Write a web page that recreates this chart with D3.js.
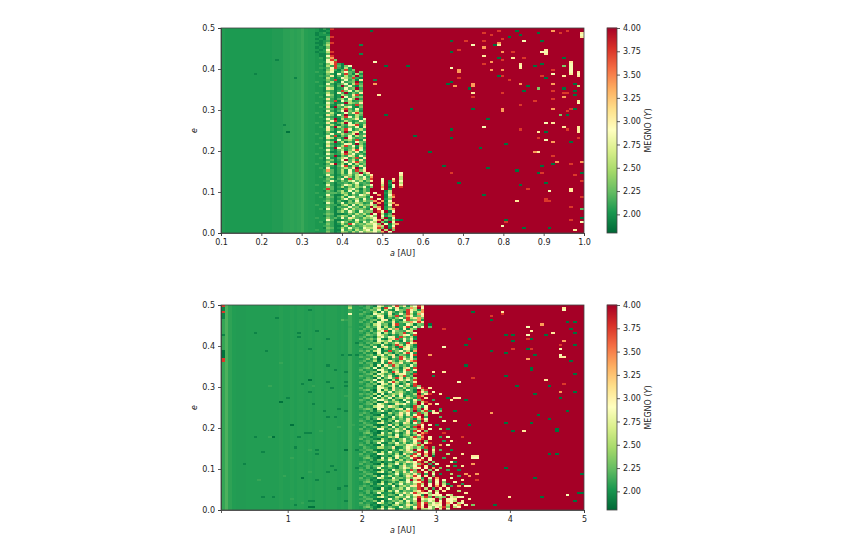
<!DOCTYPE html>
<html>
<head>
<meta charset="utf-8">
<script src="https://cdn.jsdelivr.net/npm/d3@7"></script>
<style>
  body { margin: 0; background: #fff; }
  text { font-family: "DejaVu Sans", sans-serif; fill: #222; }
</style>
</head>
<body>
<div id="chart"></div>
<script>
// cells are written as one character each, these are the MEGNO values behind them
const levelKeys = ["0","1","2","3","4","5","6","7","8","9","a","R"];
const levelValues = [1.85,1.93,2.02,2.1,2.2,2.32,2.55,2.85,3.05,3.4,3.75,4];

const topATicks = [0.1,0.2,0.3,0.4,0.5,0.6,0.7,0.8,0.9,1.0];
const bottomATicks = [1,2,3,4,5];
const eTicks = [0,0.1,0.2,0.3,0.4,0.5];
const colorTicks = [2,2.25,2.5,2.75,3,3.25,3.5,3.75,4];

const topColumnBase = [2.04,2.03,2.03,2.03,2.03,2.03,2.03,2.03,2.03,2.03,2.03,2.03,2.03,2.03,2.04,2.04,2.04,2.07,2.07,2.08,2.07,2.08,2.11,2.06,2.05,2.05,
  4,4,4,4,4,4,4,4,4,4,4,4,4,4,4,4,4,4,4,4,4,4,4,4,4,4,4,4,4,4,4,4,4,4,4,4,4,4,4,4,4,4,4,4,4,4,4,4,4,4,4,4,4,4,4,4,4,4,4,4,4,4,4,4,4,4,4,4,4,4,4,4,4,4];
const bottomColumnBase = [2.1,2.17,2.08,2.05,2.04,2.04,2.04,2.05,2.05,2.05,2.05,2.05,2.05,2.05,2.05,2.05,2.06,2.05,2.05,2.06,2.05,2.06,2.06,2.05,2.06,2.05,2.06,2.06,2.05,2.06,2.06,2.06,2.05,2.06,2.05,2.12,2.06,2.05,
  4,4,4,4,4,4,4,4,4,4,4,4,4,4,4,4,4,4,4,4,4,4,4,4,4,4,4,4,4,4,4,4,4,4,4,4,4,4,4,4,4,4,4,4,4,4,4,4,4,4,4,4,4,4,4,4,4,4,4,4,4,4];

// chaotic band, top row is e = 0.5. First char is column 26 (top) / 38 (bottom), short rows end in red
const topBandStart = 26;
const topBandRows = [
"2131a","2112R","1231R","1222R","2114a","1214R","2123R","1125a","2136R","1215R",
"2127R","1226a","2114R","2117a","23159","2217a5","22278a","23158a31","22163a4157","23247a3162",
"22158314a25","32267125743R5","22153173a4162","23248142635R4","2216312764a31","22253a1473518","32146217345R2","22173135726a4","2325414R47315","22186123745R3",
"2214313a57264","32263174R2538","22175126438a2","2314412R73645","22283146275R3","22153a1746235","32174123R6548","22262157342a4","23181R4367215","22254136a4273",
"22173147R5362","32246213748a5","22185174R3264","23143125a7362","22274R16345827","22157a13642375","32283146R72534","22146215378a26","23173R64253718","22284135a72463",
"22152174R36827","32147236458R34","22273a15372648","23186142R75342","22142173563a28","22275R36142754","32163124783R52","22184136a47263","23142R75346182","22273146258a73",
"22151137R64825","32174236a57342","22243R15386274","23172146735a28","22145137R46283","22263125748a54","32148R36172635","22253147a26384","23172135648R27","22394136273a58",
"223541362745R58RRRRRRRR7","2227312546367258RRRRRRR8","2314613785264739RRRRRRR6","222531472a36584aRR7RR8R6","2234712536746258RR7R19R7","221531364257343RRR8R2RR6","3227312476362457RR6R17R8","2225413625364725RR9R07Ra","223a41253674153RRR8R2RRR","221531462736253RRRR16RRR",
"322441365274258R7RR26RRR","222731146253764RR9R17aRR","2315413627745527RRR169RR","222431257346273aR7R25RRR","22353146152736459R917RRR","2217413725465237R9R269RR","32243115627364585RR17R9R","222531463745263R69R25RRR","2317312573645427R8R269RR","2224314637527455Ra7R17RR",
"223541172536463R7R614RRR","22143146527452675R7259RR","32253127386436567R6R17RR","222741163527453479R5261R","23143147523627476R51R7RR","222531263a74546675R7169R","2234311762534655796R27RR","22154126374537667a5R19RR","322431173526467476R6R5RR","2225312653647566759R7RRR"
];
const bottomBandStart = 38;
const bottomBandRows = [
"3243176347a58267a8","2342561a73824596R7","3235472631754a8629","2432617384251a7369","4321765281374a6297","3245378164a2597358","2343167142573a6895","3424527816317a4592","4235176338246597a8","2342674518a3276154",
"3253471626138a2747","2434176385927164R","4325267a1754386R","324247163845a257","235437641425873a","34231674782a5361","4245372168a37482","233417658241736R","3243561635842a79","4325317314a62851",
"24427168351a6742","3234370526418735R","43526712a3574619","2423071641538a72","324526736815427a","43347165284a6371","23525076143a7584","342361738526479a","42441372a6583416","233517184a635274",
"345270637451682a","4233177415628a37","342450762a837451","234517635168742a","433263748216a35","3243071574a82636","245471631628574a","432527738a635148","324350762751483a","234417635827461a5",
"42332775184362437aR8R","3452071638452741R6aR","2324176372564241a85R7","4343617146583236R48a","3235071648271534a9R","2452716371564852aR8","43243775263174284aR","3243501845631726R6a","2345176312867425R7R9","423267748651431a627R",
"345407152368174a4R8R","232415731425694R36a28R5","3431236163485724a46R7","4233107241583827aR6R","234245631736245a8R3","32413771462538416a7R","432310625174482a3R6R","24322673145286174aR","3344107382615534a7R7","242351641725362aR8",
"4232177253648145a9R7","334120631475382a7R5","2453107362514836R9aR","23241563417256148aR","343123726581346a49R7","42331063142573586aR8","2342457326158437aR5","32413761547362484R7a","4323107231654876a6R","243226634812576463aR5",
"334410731526485R7R3R8R","2423516273415684aR7R6","423217735261843a7R9R5","33412063147526a85R6R1","245310726183547aR7R8R","232415637416253R8aR7","3431237231645867aR6R5R","42331061547263485aR3R7","2342457362158457aR8R1R","32413762431576487R7R9R5",
"43231063175462a5R7R5R7R","2432267251638475aR8R6R","33441061347256484R3R7R1","242351736251486a7R8R5R","423217621745364883R7R9R","33412073465127R6a5R5R8R7","24531061352647478aR4R7R5","2324157261473546a6R7R8R6","3431236327156488a7R7R9R8R","4233107215463745aR6R3R8R7",
"23424561637254368aR7R6R8R","324137723164857a6875R7R","432310625417364782R6787R76R","2432267312654736a6a4R565R867","3344106273518447R7678R5R778","2423517135462746R6576R7R876R8","4232176241753615a7a5768R97R67","3341207315624864a7R6787R6R79R7","2453106153274627a8R7576a5R67R","2324157276135416R6675R8R7R"
];

// single odd cells [column, row from top, level]
const topSpecks = [
[9,22,"1"],[15,15,"1"],[20,24,"1"],[18,50,"0"],[17,47,"1"],
[33,72,"2"],[33,75,"3"],[33,78,"1"],[33,81,"3"],[33,84,"2"],[33,87,"3"],[33,90,"1"],[33,93,"2"],[33,96,"3"],[31,74,"3"],[31,80,"4"],[31,86,"3"],[31,92,"4"],
[41,1,"0"],[38,8,"1"],[38,12,"1"],[42,16,"7"],[45,18,"0"],[51,18,"0"],[42,25,"1"],[42,27,"9"],[43,32,"8"],[52,39,"0"],[45,42,"0"],[53,52,"0"],[57,60,"0"],[49,93,"0"],
[63,6,"0"],[67,6,"a"],[69,8,"7"],[63,11,"0"],[65,10,"a"],[72,6,"a"],[72,9,"9"],[72,13,"8"],[72,17,"a"],[74,3,"a"],[76,1,"a"],[72,2,"a"],[75,8,"0"],[76,8,"8"],[76,7,"9"],[77,5,"a"],[77,11,"9"],[80,11,"a"],[80,14,"8"],[76,14,"0"],[77,15,"a"],[74,16,"9"],[74,20,"9"],[77,20,"9"],[82,17,"8"],[82,18,"7"],[82,19,"8"],[83,14,"a"],[81,1,"0"],[82,3,"0"],[79,4,"0"],[87,2,"0"],[83,6,"7"],[88,6,"0"],[88,11,"7"],[89,10,"8"],[89,11,"7"],[89,12,"8"],[86,18,"0"],[88,17,"0"],[94,14,"0"],[94,18,"5"],
[96,16,"8"],[96,17,"7"],[96,18,"7"],[96,19,"7"],[96,20,"7"],[96,21,"7"],[96,22,"8"],[98,21,"8"],[98,22,"7"],[98,23,"8"],[91,1,"9"],[93,2,"a"],[95,1,"a"],[99,2,"8"],[99,3,"7"],[99,4,"8"],[91,20,"a"],[91,22,"7"],[89,24,"0"],[94,23,"8"],[88,23,"a"],
[63,19,"7"],[65,20,"9"],[65,21,"9"],[65,24,"a"],[63,26,"0"],[62,27,"0"],[64,28,"9"],[69,27,"9"],[69,28,"9"],[68,29,"0"],[69,31,"8"],[69,33,"a"],[77,23,"a"],[79,25,"a"],[76,23,"0"],[82,27,"9"],[84,28,"0"],[83,30,"0"],[87,29,"5"],[77,31,"a"],[91,27,"9"],[91,30,"a"],[94,29,"0"],[94,31,"a"],[95,31,"a"],[97,27,"0"],[98,28,"6"],[97,30,"0"],[97,32,"0"],[94,33,"9"],[91,34,"a"],[98,35,"8"],[98,36,"7"],[86,35,"a"],[82,37,"a"],[69,39,"0"],[77,39,"9"],[77,40,"9"],[91,39,"9"],[95,40,"a"],[96,39,"a"],[97,39,"0"],[93,42,"5"],[95,42,"0"],[73,44,"0"],[72,48,"7"],[63,49,"0"],[82,49,"a"],[87,50,"8"],[89,50,"0"],[89,46,"7"],[91,46,"8"],[94,48,"8"],[95,49,"a"],[98,48,"8"],[98,49,"8"],[98,50,"8"],[63,53,"0"],[87,53,"a"],[89,54,"7"],[98,53,"a"],
[91,55,"9"],[96,55,"0"],[78,56,"0"],[71,58,"0"],[86,60,"9"],[87,60,"8"],[91,62,"a"],[92,65,"9"],[91,66,"0"],[88,67,"0"],[96,66,"a"],[99,65,"9"],[61,67,"0"],[73,68,"0"],[63,70,"a"],[81,69,"0"],[87,70,"0"],[88,70,"a"],[97,71,"a"],[99,70,"0"],[65,75,"0"],[82,76,"0"],[89,75,"0"],[99,74,"a"],[84,78,"a"],[90,79,"7"],[96,78,"8"],[96,79,"8"],[72,81,"0"],[89,83,"a"],[89,84,"a"],[90,84,"a"],[81,84,"8"],[99,82,"a"],[96,87,"a"],[99,88,"4"],[99,92,"0"],[96,93,"a"],[78,93,"0"],[78,94,"a"],[77,96,"7"],[83,97,"0"],[90,97,"0"],[97,98,"8"],[99,94,"7"]
];
const bottomSpecks = [
[0,0,"a"],[0,1,"1"],[0,2,"1"],[0,3,"a"],[0,4,"1"],[0,5,"1"],[0,6,"1"],[0,14,"1"],[0,22,"0"],[0,23,"0"],[0,24,"0"],[0,25,"0"],[0,26,"a"],[0,27,"a"],
[24,2,"1"],[15,6,"1"],[9,13,"1"],[21,13,"1"],[21,15,"1"],[26,12,"1"],[29,16,"1"],[37,18,"1"],[33,7,"4"],[34,7,"3"],[35,1,"6"],[35,0,"5"],[35,4,"7"],[35,10,"3"],[12,22,"1"],[24,21,"1"],[33,24,"1"],[35,24,"1"],[37,24,"1"],[29,29,"1"],[31,31,"1"],[34,32,"1"],[16,28,"3"],[24,36,"0"],[22,38,"1"],[29,37,"1"],[34,37,"1"],[30,40,"1"],[34,39,"1"],[18,45,"1"],[16,47,"0"],[25,48,"1"],[24,42,"1"],[32,50,"1"],[28,51,"1"],[34,44,"3"],[13,39,"3"],[25,39,"3"],
[19,58,"0"],[14,64,"0"],[9,64,"1"],[21,64,"1"],[23,62,"1"],[24,62,"1"],[29,54,"1"],[31,54,"1"],[34,70,"0"],[26,70,"1"],[26,72,"1"],[20,69,"1"],[11,71,"1"],[6,77,"1"],[34,51,"1"],[37,70,"1"],[22,84,"0"],[26,85,"1"],[32,89,"1"],[34,88,"1"],[11,93,"1"],[14,93,"1"],[20,97,"1"],[24,98,"0"],[25,98,"0"],[24,95,"1"],[25,95,"1"],[34,95,"1"],[19,94,"3"],[22,96,"3"],[19,74,"3"],[24,70,"3"],[10,85,"3"],[13,64,"3"],[17,83,"3"],[24,81,"3"],[36,58,"3"],[27,61,"3"],[32,59,"3"],[29,81,"1"],[31,80,"1"],[37,79,"1"],[30,78,"1"],
[44,52,"1"],[44,55,"2"],[44,58,"0"],[44,61,"3"],[44,64,"1"],[44,67,"2"],[44,70,"1"],[44,73,"3"],[44,76,"0"],[44,79,"2"],[44,82,"1"],[44,85,"3"],[44,88,"1"],[44,91,"2"],[44,94,"0"],[44,97,"3"],
[58,46,"3"],[59,48,"7"],[60,50,"2"],[59,52,"8"],[60,54,"4"],[61,56,"7"],[59,58,"1"],[60,60,"6"],[61,62,"a"],[60,64,"3"],[62,64,"7"],[61,66,"2"],[62,68,"7"],[60,70,"4"],[63,70,"1"],[62,72,"6"],[64,74,"8"],[61,74,"3"],[63,76,"7"],[62,80,"3"],[64,78,"2"],[66,78,"8"],[63,82,"6"],[65,83,"3"],[64,86,"7"],[66,87,"2"],[63,88,"3"],[67,88,"7"],[65,90,"6"],[67,91,"8"],[66,93,"7"],[68,94,"8"],
[57,9,"0"],[57,10,"4"],[61,11,"a"],[61,20,"7"],[57,24,"9"],[61,32,"8"],[58,32,"8"],[58,34,"1"],[65,37,"7"],[60,43,"8"],[62,45,"0"],[64,45,"8"],[63,46,"8"],[65,45,"8"],[67,46,"0"],[64,51,"0"],[69,3,"0"],[68,16,"0"],[67,19,"0"],[67,29,"0"],[69,35,"a"],
[64,56,"8"],[62,60,"1"],[66,64,"a"],[63,66,"8"],[60,68,"9"],[66,72,"8"],[64,76,"1"],[62,78,"8"],[65,80,"1"],[67,82,"9"],[63,84,"7"],[66,85,"8"],[62,87,"1"],[65,88,"9"],
[74,5,"a"],[74,7,"0"],[77,3,"8"],[77,4,"a"],[94,1,"8"],[94,2,"7"],[95,8,"0"],[97,8,"0"],[96,11,"0"],[97,13,"0"],[84,10,"7"],[85,12,"8"],[88,9,"9"],[91,13,"8"],[78,14,"0"],[80,14,"0"],[84,14,"7"],[85,16,"0"],[84,16,"a"],[89,14,"0"],[94,17,"9"],[93,19,"a"],[93,21,"7"],[93,24,"7"],[93,25,"8"],[94,25,"8"],[97,19,"0"],[80,17,"0"],[80,21,"a"],[74,22,"0"],[84,21,"0"],[85,21,"a"],[78,23,"0"],[86,24,"0"],[84,26,"9"],[96,27,"0"],[85,30,"0"],[85,31,"0"],[97,33,"0"],[78,34,"0"],[89,36,"8"],[94,38,"a"],[81,39,"0"],[90,39,"0"],[93,42,"9"],[97,42,"0"],[86,43,"0"],[93,45,"0"],[95,51,"0"],[74,52,"9"],
[87,53,"0"],[90,55,"0"],[78,57,"0"],[85,57,"0"],[68,58,"0"],[80,61,"0"],[83,61,"8"],[92,60,"0"],[92,61,"0"],[68,67,"6"],[90,72,"0"],[92,72,"0"],[69,74,"7"],[70,74,"7"],[69,73,"8"],[70,73,"8"],[69,77,"9"],[78,79,"0"],[70,82,"9"],[68,83,"9"],[70,85,"a"],[99,82,"0"],[86,84,"0"],[68,88,"7"],[99,91,"0"],[98,91,"0"],[95,92,"7"],[88,93,"0"],[79,93,"8"],[97,95,"0"],[69,97,"5"],[75,97,"0"]
];

const nCols = 100, nRows = 100;
const rdYlGn = ["#006837","#1a9850","#66bd63","#a6d96a","#d9ef8b","#ffffbf","#fee08b","#fdae61","#f46d43","#d73027","#a50026"];
const vMin = 1.8, vMax = 4;
const color = d3.scaleLinear()
  .domain(d3.range(11).map(i => vMin + (vMax - vMin) * i / 10))
  .range(rdYlGn)
  .clamp(true);
const level = c => levelValues[levelKeys.indexOf(c)];

const svg = d3.select("#chart").append("svg").attr("width", 850).attr("height", 550);
const defs = svg.append("defs");
defs.append("filter").attr("id", "soft")
  .attr("x", "-2%").attr("y", "-2%").attr("width", "104%").attr("height", "104%")
  .append("feGaussianBlur").attr("stdDeviation", 0.55);

function buildCells(base, bandRows, bandStart, specks) {
  const grid = d3.range(nRows).map(() => base.slice());
  bandRows.forEach((s, r) => {
    d3.range(bandStart, nCols).forEach(c => {
      if (c - bandStart < s.length) grid[r][c] = level(s[c - bandStart]);
    });
  });
  specks.forEach(([c, r, k]) => { grid[r][c] = level(k); });
  const cells = [];
  grid.forEach((row, r) => row.forEach((v, c) => cells.push({c, r, v})));
  return cells;
}

function drawPanel(top, aDomain, aTicks, aFormat, cells, id) {
  const left = 221, width = 363, height = 205;
  const x = d3.scaleLinear().domain(aDomain).range([left, left + width]);
  const y = d3.scaleLinear().domain([0, 0.5]).range([top + height, top]);
  const cx = d3.scaleBand().domain(d3.range(nCols)).range([left, left + width]);
  const cy = d3.scaleBand().domain(d3.range(nRows)).range([top, top + height]);

  defs.append("clipPath").attr("id", id)
    .append("rect").attr("x", left).attr("y", top).attr("width", width).attr("height", height);

  svg.append("g").attr("clip-path", `url(#${id})`)
    .append("g").attr("filter", "url(#soft)")
    .selectAll("rect")
    .data(cells)
    .join("rect")
    .attr("shape-rendering", "crispEdges")
    .attr("x", d => cx(d.c))
    .attr("y", d => cy(d.r))
    .attr("width", cx.bandwidth() + 0.5)
    .attr("height", cy.bandwidth() + 0.5)
    .attr("fill", d => color(d.v));

  const gx = svg.append("g").attr("transform", `translate(0,${top + height})`)
    .call(d3.axisBottom(x).tickValues(aTicks).tickFormat(aFormat).tickSize(3).tickPadding(3));
  const gy = svg.append("g").attr("transform", `translate(${left},0)`)
    .call(d3.axisLeft(y).tickValues(eTicks).tickFormat(d3.format(".1f")).tickSize(3).tickPadding(3));
  [gx, gy].forEach(g => {
    g.selectAll("text").attr("font-size", 8).attr("font-family", null);
    g.selectAll("path,line").attr("stroke", "#333").attr("stroke-width", 0.8);
  });

  svg.append("rect").attr("x", left).attr("y", top).attr("width", width).attr("height", height)
    .attr("fill", "none").attr("stroke", "#444").attr("stroke-width", 0.8);

  const xLabel = svg.append("text").attr("x", left + width / 2).attr("y", top + height + 23)
    .attr("text-anchor", "middle").attr("font-size", 8);
  xLabel.append("tspan").attr("font-style", "italic").text("a");
  xLabel.append("tspan").text(" [AU]");

  svg.append("text").attr("transform", `translate(197,${top + height / 2}) rotate(-90)`)
    .attr("text-anchor", "middle").attr("font-size", 8).attr("font-style", "italic").text("e");

  // colorbar
  const barX = 607, barW = 10;
  const cb = d3.scaleLinear().domain([vMin, vMax]).range([top + height, top]);
  svg.append("g").selectAll("rect")
    .data(d3.range(vMin, vMax, (vMax - vMin) / 205))
    .join("rect")
    .attr("x", barX)
    .attr("y", d => cb(d) - 1.3)
    .attr("width", barW)
    .attr("height", 1.3)
    .attr("fill", d => color(d));
  svg.append("rect").attr("x", barX).attr("y", top).attr("width", barW).attr("height", height)
    .attr("fill", "none").attr("stroke", "#444").attr("stroke-width", 0.8);
  const gc = svg.append("g").attr("transform", `translate(${barX + barW},0)`)
    .call(d3.axisRight(cb).tickValues(colorTicks).tickFormat(d3.format(".2f")).tickSize(3).tickPadding(3));
  gc.select(".domain").remove();
  gc.selectAll("text").attr("font-size", 8).attr("font-family", null);
  gc.selectAll("line").attr("stroke", "#333").attr("stroke-width", 0.8);

  const cLabel = svg.append("text").attr("transform", `translate(651,${top + height / 2}) rotate(-90)`)
    .attr("text-anchor", "middle").attr("font-size", 8);
  cLabel.append("tspan").text("MEGNO (");
  cLabel.append("tspan").attr("font-style", "italic").text("Y");
  cLabel.append("tspan").text(")");
}

drawPanel(28, [0.1, 1.0], topATicks, d3.format(".1f"),
  buildCells(topColumnBase, topBandRows, topBandStart, topSpecks), "clipTop");
drawPanel(305, [0.1, 5], bottomATicks, d3.format("d"),
  buildCells(bottomColumnBase, bottomBandRows, bottomBandStart, bottomSpecks), "clipBottom");
</script>
</body>
</html>
